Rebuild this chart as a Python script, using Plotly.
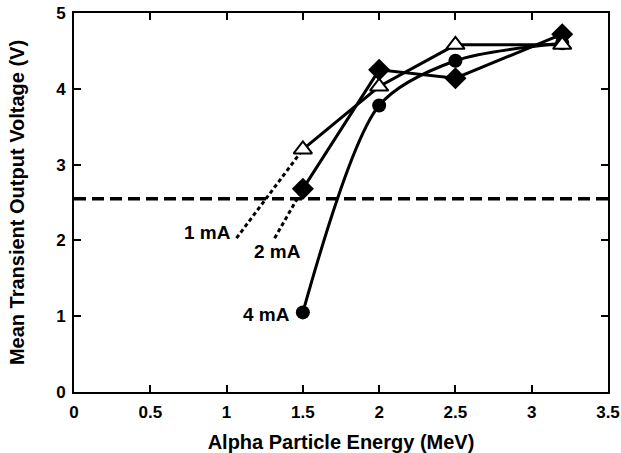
import plotly.graph_objects as go

energy = [1.5, 2.0, 2.5, 3.2]
v_1mA = [3.20, 4.03, 4.58, 4.58]
v_2mA = [2.68, 4.25, 4.14, 4.72]
v_4mA = [1.05, 3.78, 4.37, 4.60]

# dotted extrapolations below the lowest measured point
ext_1mA_x = [1.065, 1.5]
ext_1mA_y = [2.03, 3.20]
ext_2mA_x = [1.315, 1.5]
ext_2mA_y = [2.03, 2.68]

threshold_x = [0, 3.5]
threshold_y = [2.55, 2.55]

labels = ["1 mA", "2 mA", "4 mA"]
label_x = [0.875, 1.335, 1.26]
label_y = [2.10, 1.86, 1.02]

FONT = "Liberation Sans, Arial, sans-serif"

fig = go.Figure()

fig.add_trace(go.Scatter(x=threshold_x, y=threshold_y, mode="lines",
                         line=dict(color="black", width=3.5, dash="12px,6px")))
fig.add_trace(go.Scatter(x=ext_1mA_x, y=ext_1mA_y, mode="lines",
                         line=dict(color="black", width=3, dash="4px,3px")))
fig.add_trace(go.Scatter(x=ext_2mA_x, y=ext_2mA_y, mode="lines",
                         line=dict(color="black", width=3, dash="4px,3px")))

fig.add_trace(go.Scatter(x=energy, y=v_4mA, mode="lines+markers",
                         line=dict(color="black", width=3, shape="spline", smoothing=0.8),
                         marker=dict(symbol="circle", size=14, color="black")))
fig.add_trace(go.Scatter(x=energy, y=v_2mA, mode="lines+markers",
                         line=dict(color="black", width=3),
                         marker=dict(symbol="diamond", size=17, color="black")))
fig.add_trace(go.Scatter(x=energy, y=v_1mA, mode="lines+markers",
                         line=dict(color="black", width=3),
                         marker=dict(symbol="triangle-up", size=16, color="white",
                                     line=dict(color="black", width=2))))

for t, lx, ly in zip(labels, label_x, label_y):
    fig.add_annotation(x=lx, y=ly, text=t, showarrow=False, xanchor="center", yanchor="middle",
                       font=dict(family=FONT, size=19, color="black", weight="bold"))

axis_common = dict(showline=True, linecolor="black", linewidth=2, mirror="ticks",
                   ticks="inside", ticklen=7, tickwidth=1.5, tickcolor="black",
                   showgrid=False, zeroline=False, automargin=False,
                   tickfont=dict(family=FONT, size=17, color="black", weight="bold"))

fig.update_xaxes(range=[0, 3.5], tickvals=[0, 0.5, 1, 1.5, 2, 2.5, 3, 3.5],
                 ticktext=["0", "0.5", "1", "1.5", "2", "2.5", "3", "3.5"],
                 ticklabelstandoff=4,
                 title=dict(text="Alpha Particle Energy (MeV)", standoff=14,
                            font=dict(family=FONT, size=20, color="black", weight="bold")),
                 **axis_common)
fig.update_yaxes(range=[0, 5], dtick=1, ticklabelstandoff=3,
                 title=dict(text="Mean Transient Output Voltage (V)", standoff=26,
                            font=dict(family=FONT, size=20, color="black", weight="bold")),
                 **axis_common)

fig.update_layout(width=621, height=453, showlegend=False,
                  plot_bgcolor="white", paper_bgcolor="white",
                  margin=dict(l=74, r=13, t=13, b=61))

fig.write_html("out.html", config={"displayModeBar": False},
               post_script="document.body.style.margin='0';")
